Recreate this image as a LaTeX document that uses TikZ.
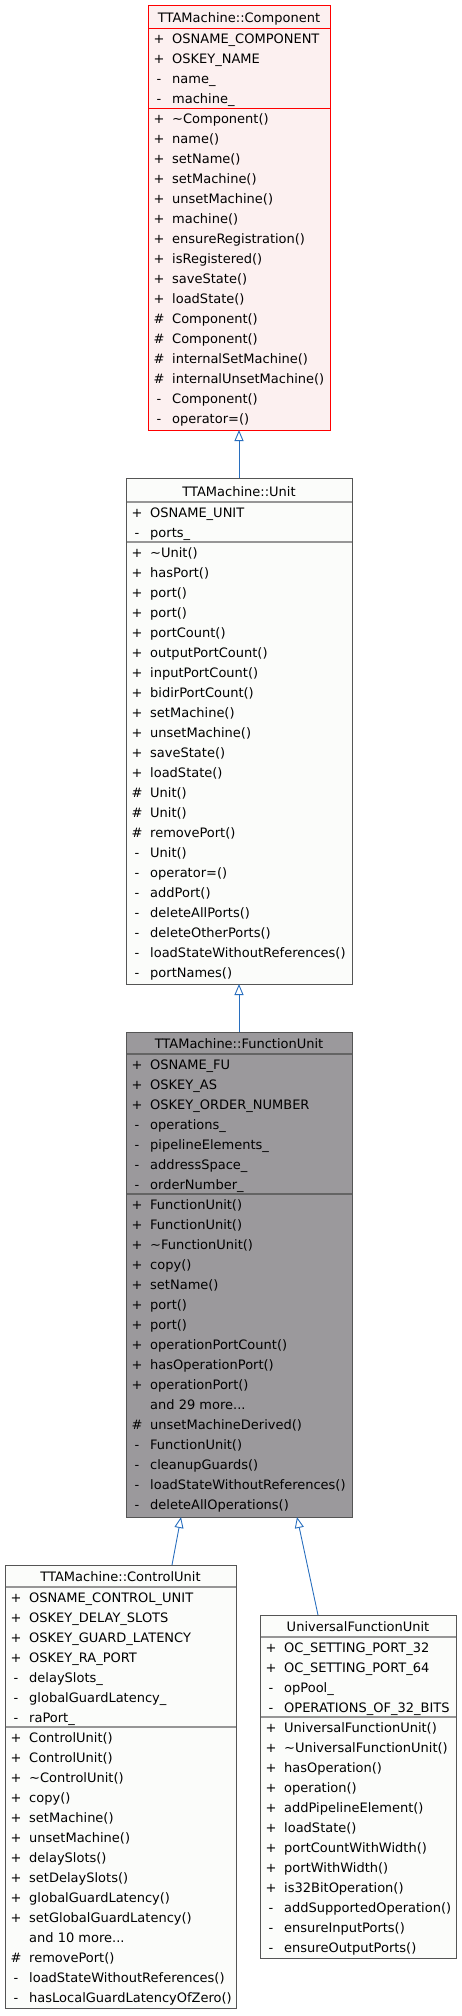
\documentclass[tikz,border=0pt]{standalone}
\usepackage{fontspec}
\setmainfont{DejaVu Sans}
\usetikzlibrary{arrows.meta}
\definecolor{edgeblue}{RGB}{40,110,190}
\definecolor{compfill}{RGB}{252,240,240}
\definecolor{plainfill}{RGB}{251,252,250}
\definecolor{focusfill}{RGB}{155,153,156}
\definecolor{bordergrey}{RGB}{85,85,85}
\definecolor{sepgrey}{RGB}{150,150,150}
\definecolor{focussep}{RGB}{100,100,100}
\newcommand\threedots{...}
\newcommand\umlrows[4]{% #1 prefix, #2 left x, #3 top y, #4 list
  \foreach \s/\t [count=\i from 0] in {#4} {
    \node[vis] (#1s\i) at (#2+11, #3+15+20*\i) {\s};
    \node[mem] (#1t\i) at (#2+24, #3+15+20*\i) {\t};
  }}
\tikzset{
  classbox/.style={rectangle, inner sep=0pt, outer sep=0pt, line width=1pt},
  vis/.style={anchor=base, inner sep=0pt, font=\fontsize{13}{15}\selectfont},
  mem/.style={anchor=base west, inner sep=0pt, font=\fontsize{13}{15}\selectfont},
  ttl/.style={anchor=base, inner sep=0pt, font=\fontsize{13}{15}\selectfont},
  inh/.style={draw=edgeblue, line width=0.9pt, {Triangle[open, length=11pt, width=9pt]}-},
}
\begin{document}
\begin{tikzpicture}[x=1pt,y=-1pt]
\useasboundingbox (0,0) rectangle (461,2016);

% ---------- TTAMachine::Component ----------
\node[classbox, draw=red, fill=compfill, minimum width=182pt, minimum height=425pt] (comp) at (239,217.5) {};
\draw[red, line width=1pt] (148,28) -- (330,28) (148,108) -- (330,108);
\node[ttl] (compT) at (239,22.5) {TTAMachine::Component};
\umlrows{compA}{148}{28}{+/OSNAME\_COMPONENT, +/OSKEY\_NAME, -/name\_, -/machine\_}
\umlrows{compM}{148}{108}{+/\textasciitilde Component(), +/name(), +/setName(), +/setMachine(), +/unsetMachine(), +/machine(), +/ensureRegistration(), +/isRegistered(), +/saveState(), +/loadState(), \#/Component(), \#/Component(), \#/internalSetMachine(), \#/internalUnsetMachine(), -/Component(), -/operator=()}

% ---------- TTAMachine::Unit ----------
\node[classbox, draw=bordergrey, fill=plainfill, minimum width=226pt, minimum height=506pt] (unit) at (239,731) {};
\draw[sepgrey, line width=1.2pt] (126.5,502) -- (351.5,502) (126.5,542) -- (351.5,542);
\node[ttl] (unitT) at (239,496.5) {TTAMachine::Unit};
\umlrows{unitA}{126}{502}{+/OSNAME\_UNIT, -/ports\_}
\umlrows{unitM}{126}{542}{+/\textasciitilde Unit(), +/hasPort(), +/port(), +/port(), +/portCount(), +/outputPortCount(), +/inputPortCount(), +/bidirPortCount(), +/setMachine(), +/unsetMachine(), +/saveState(), +/loadState(), \#/Unit(), \#/Unit(), \#/removePort(), -/Unit(), -/operator=(), -/addPort(), -/deleteAllPorts(), -/deleteOtherPorts(), -/loadStateWithoutReferences(), -/portNames()}

% ---------- TTAMachine::FunctionUnit ----------
\node[classbox, draw=bordergrey, fill=focusfill, minimum width=226pt, minimum height=485pt] (fu) at (239,1274.5) {};
\draw[focussep, line width=1.2pt] (126.5,1054) -- (351.5,1054) (126.5,1194) -- (351.5,1194);
\node[ttl] (fuT) at (239,1048.5) {TTAMachine::FunctionUnit};
\umlrows{fuA}{126}{1054}{+/OSNAME\_FU, +/OSKEY\_AS, +/OSKEY\_ORDER\_NUMBER, -/operations\_, -/pipelineElements\_, -/addressSpace\_, -/orderNumber\_}
\umlrows{fuM}{126}{1194}{+/FunctionUnit(), +/FunctionUnit(), +/\textasciitilde FunctionUnit(), +/copy(), +/setName(), +/port(), +/port(), +/operationPortCount(), +/hasOperationPort(), +/operationPort(), /and 29 more\threedots, \#/unsetMachineDerived(), -/FunctionUnit(), -/cleanupGuards(), -/loadStateWithoutReferences(), -/deleteAllOperations()}

% ---------- TTAMachine::ControlUnit ----------
\node[classbox, draw=bordergrey, fill=plainfill, minimum width=231pt, minimum height=443pt] (cu) at (120.5,1786.5) {};
\draw[sepgrey, line width=1.2pt] (5.5,1587) -- (235.5,1587) (5.5,1727) -- (235.5,1727);
\node[ttl] (cuT) at (120.5,1581.5) {TTAMachine::ControlUnit};
\umlrows{cuA}{5}{1587}{+/OSNAME\_CONTROL\_UNIT, +/OSKEY\_DELAY\_SLOTS, +/OSKEY\_GUARD\_LATENCY, +/OSKEY\_RA\_PORT, -/delaySlots\_, -/globalGuardLatency\_, -/raPort\_}
\umlrows{cuM}{5}{1727}{+/ControlUnit(), +/ControlUnit(), +/\textasciitilde ControlUnit(), +/copy(), +/setMachine(), +/unsetMachine(), +/delaySlots(), +/setDelaySlots(), +/globalGuardLatency(), +/setGlobalGuardLatency(), /and 10 more\threedots, \#/removePort(), -/loadStateWithoutReferences(), -/hasLocalGuardLatencyOfZero()}

% ---------- UniversalFunctionUnit ----------
\node[classbox, draw=bordergrey, fill=plainfill, minimum width=196pt, minimum height=343pt] (ufu) at (358,1786.5) {};
\draw[sepgrey, line width=1.2pt] (260.5,1637) -- (455.5,1637) (260.5,1717) -- (455.5,1717);
\node[ttl] (ufuT) at (358,1631.5) {UniversalFunctionUnit};
\umlrows{ufuA}{260}{1637}{+/OC\_SETTING\_PORT\_32, +/OC\_SETTING\_PORT\_64, -/opPool\_, -/OPERATIONS\_OF\_32\_BITS}
\umlrows{ufuM}{260}{1717}{+/UniversalFunctionUnit(), +/\textasciitilde UniversalFunctionUnit(), +/hasOperation(), +/operation(), +/addPipelineElement(), +/loadState(), +/portCountWithWidth(), +/portWithWidth(), +/is32BitOperation(), -/addSupportedOperation(), -/ensureInputPorts(), -/ensureOutputPorts()}

% ---------- inheritance connectors ----------
\draw[inh] (comp.south) -- (unit.north);
\draw[inh] (unit.south) -- (fu.north);
\draw[inh] ([xshift=55pt]fu.south west) -- ([xshift=167pt]cu.north west);
\draw[inh] ([xshift=171pt]fu.south west) -- ([xshift=58pt]ufu.north west);
\end{tikzpicture}
\end{document}
